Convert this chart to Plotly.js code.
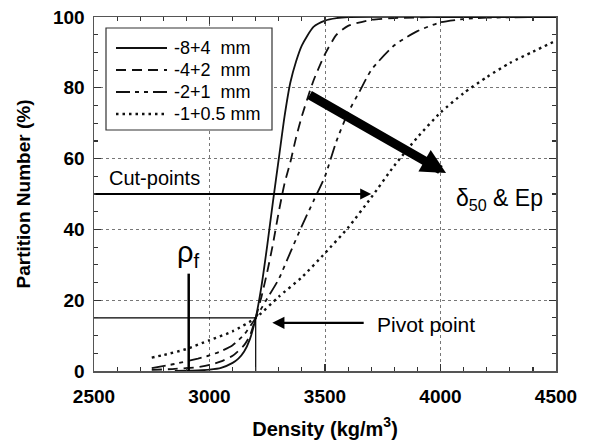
<!DOCTYPE html>
<html><head><meta charset="utf-8">
<script src="https://cdn.plot.ly/plotly-3.0.1.min.js"></script>
<style>html,body{margin:0;padding:0;background:#fff}#g{width:590px;height:445px}</style>
</head><body><div id="g"></div>
<script>
// Series: density (kg/m3) vs partition number (%)
const s1Name = "-8+4  mm";
const s1X = [2850,2900,2950,3000,3050,3100,3125,3150,3175,3200,3225,3250,3275,3300,3325,3350,3375,3400,3450,3500,3550,3600,4000,4500];
const s1Y = [0,0.1,0.2,0.4,0.9,2.3,3.5,5.5,9,15,24,35.5,48,60,72,81.5,87.5,92,97.2,99,99.7,100,100,100];

const s2Name = "-4+2  mm";
const s2X = [2750,2850,2950,3000,3050,3100,3150,3175,3200,3225,3250,3275,3300,3325,3350,3375,3400,3450,3500,3550,3600,3700,3800,4000,4500];
const s2Y = [0.3,0.6,1.1,1.7,2.7,4.3,7.3,10,15,21,28,36,45,53,59,66,72,82,89.5,95,97.5,99.2,99.7,100,100];

const s3Name = "-2+1  mm";
const s3X = [2750,2850,2950,3000,3050,3100,3150,3200,3250,3300,3350,3400,3450,3500,3550,3600,3650,3700,3800,3900,4000,4100,4200,4500];
const s3Y = [0.8,2,3.5,4.4,5.6,7.3,10.3,15,20.5,26,33.5,41,48,55,65,73,79,85,92,96,98.5,99.4,99.8,100];

const s4Name = "-1+0.5 mm";
const s4X = [2750,2800,2900,3000,3100,3200,3300,3400,3500,3600,3700,3800,3900,4000,4100,4200,4300,4400,4500];
const s4Y = [3.8,4.5,6.2,8.7,11.2,15,21,26.5,33.3,40.5,49,58,66,73,78.5,83,87,90.2,93.3];

const xTicks = [2500,3000,3500,4000,4500];
const yTicks = [0,20,40,60,80,100];

const pivotX = 3200, pivotY = 15;
const rhoF = 2910, rhoTop = 27.5;
const cutY = 50, cutEnd = 3700;

const names = [s1Name,s2Name,s3Name,s4Name];
const dashes = ["solid","10px,6px","14px,5px,4px,5px,4px,5px","2.5px,4px"];
const widths = [1.8,1.8,1.8,2.4];

const lineCol = "#111";
const traces = [
  {x:s1X,y:s1Y,name:s1Name},
  {x:s2X,y:s2Y,name:s2Name},
  {x:s3X,y:s3Y,name:s3Name},
  {x:s4X,y:s4Y,name:s4Name}
].map((t,i)=>Object.assign(t,{mode:"lines",showlegend:false,line:{color:lineCol,width:widths[i],dash:dashes[i],shape:"spline",smoothing:0.6}}));
traces.push(
  {x:[2500,pivotX,pivotX],y:[pivotY,pivotY,0],mode:"lines",showlegend:false,line:{color:"#000",width:1.2},hoverinfo:"skip"},
  {x:[rhoF,rhoF],y:[0,rhoTop],mode:"lines",showlegend:false,line:{color:"#000",width:2.5},hoverinfo:"skip"}
);

// legend drawn in paper coords (plot area: 94..556 x 17..371 px)
const px = v => (v-94)/462, py = v => (371-v)/354;
const shapes = [{type:"rect",xref:"paper",yref:"paper",x0:px(106),x1:px(272),y0:py(130),y1:py(28),line:{color:"#333",width:1.2},fillcolor:"#fff"}];
const legAnn = [];
names.forEach((n,i)=>{
  const yc = 48 + i*22;
  shapes.push({type:"line",xref:"paper",yref:"paper",x0:px(116),x1:px(167),y0:py(yc),y1:py(yc),line:{color:lineCol,width:widths[i],dash:dashes[i]}});
  legAnn.push({xref:"paper",yref:"paper",x:px(172),y:py(yc),xanchor:"left",yanchor:"middle",text:n,showarrow:false,
    font:{family:"Liberation Sans, Arial, sans-serif",size:18,color:"#000"}});
});

const annFont = {family:"Liberation Sans, Arial, sans-serif",color:"#000"};
const layout = {
  width:590,height:445,
  margin:{l:94,r:34,t:17,b:74},
  paper_bgcolor:"#fff",plot_bgcolor:"#fff",
  showlegend:false,
  xaxis:{range:[2500,4500],tickvals:xTicks,ticktext:xTicks.map(String),ticks:"inside",ticklen:7,tickwidth:1.2,tickcolor:"#333",
    showline:true,linecolor:"#555",linewidth:1.5,mirror:"ticks",zeroline:false,automargin:false,
    showgrid:true,gridcolor:"#777",griddash:"dot",gridwidth:1,ticklabelstandoff:8,
    minor:{dtick:100,ticks:"inside",ticklen:4,tickcolor:"#333",showgrid:false},
    tickfont:{family:"Liberation Sans, Arial, sans-serif",size:19,color:"#000",weight:"bold"},
    title:{text:"Density (kg/m<sup>3</sup>)",font:{family:"Liberation Sans, Arial, sans-serif",size:20,color:"#000",weight:"bold"},standoff:15}},
  yaxis:{range:[0,100],tickvals:yTicks,ticktext:yTicks.map(String),ticks:"inside",ticklen:7,tickwidth:1.2,tickcolor:"#333",
    showline:true,linecolor:"#555",linewidth:1.5,mirror:"ticks",zeroline:false,automargin:false,
    showgrid:true,gridcolor:"#777",griddash:"dot",gridwidth:1,ticklabelstandoff:4,
    minor:{dtick:5,ticks:"inside",ticklen:4,tickcolor:"#333",showgrid:false},
    tickfont:{family:"Liberation Sans, Arial, sans-serif",size:19,color:"#000",weight:"bold"},
    title:{text:"Partition Number (%)",font:{family:"Liberation Sans, Arial, sans-serif",size:19,color:"#000",weight:"bold"},standoff:17}},
  shapes:shapes,
  annotations:[
    {x:cutEnd,y:cutY,ax:2500,ay:cutY,xref:"x",yref:"y",axref:"x",ayref:"y",text:"",showarrow:true,arrowhead:2,arrowsize:1.1,arrowwidth:2,arrowcolor:"#000",standoff:0},
    {x:2558,y:54.5,xref:"x",yref:"y",xanchor:"left",yanchor:"middle",text:"Cut-points",showarrow:false,font:Object.assign({size:20},annFont)},
    {x:3272,y:13.6,ax:3674,ay:13.6,xref:"x",yref:"y",axref:"x",ayref:"y",text:"",showarrow:true,arrowhead:2,arrowsize:1.1,arrowwidth:2.2,arrowcolor:"#000",standoff:0},
    {x:3715,y:13.2,xref:"x",yref:"y",xanchor:"left",yanchor:"middle",text:"Pivot point",showarrow:false,font:Object.assign({size:21},annFont)},
    {x:4024,y:55.9,ax:3427,ay:78.2,xref:"x",yref:"y",axref:"x",ayref:"y",text:"",showarrow:true,arrowhead:2,arrowsize:0.55,arrowwidth:9,arrowcolor:"#000",standoff:0},
    {x:4255,y:48.5,xref:"x",yref:"y",xanchor:"center",yanchor:"middle",text:"δ<sub>50</sub> &amp; Ep",showarrow:false,font:Object.assign({size:23},annFont)},
    {x:rhoF,y:33,xref:"x",yref:"y",xanchor:"center",yanchor:"middle",text:"ρ<sub>f</sub>",showarrow:false,font:Object.assign({size:29},annFont)}
  ].concat(legAnn)
};
Plotly.newPlot("g",traces,layout,{displayModeBar:false,staticPlot:true});
</script></body></html>
